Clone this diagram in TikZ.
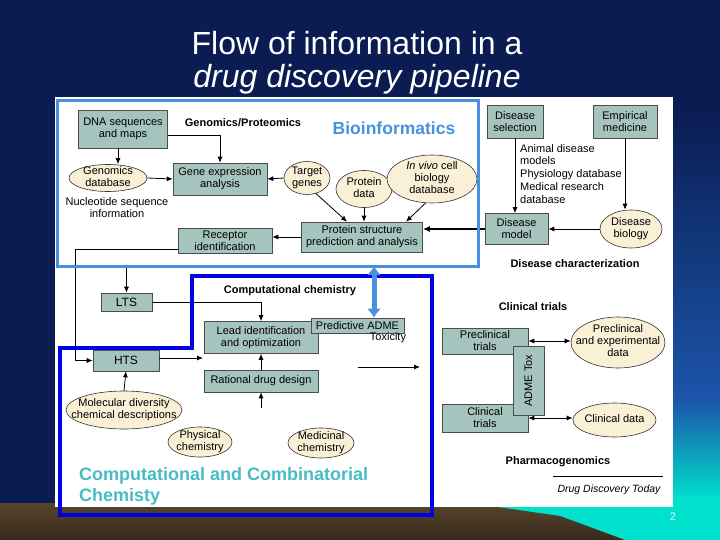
\documentclass[tikz,border=0pt]{standalone}
\usepackage{fontspec}
\setmainfont{Liberation Sans}
\usetikzlibrary{arrows.meta,shapes.geometric,calc}
\definecolor{navy}{RGB}{10,28,82}
\definecolor{midblue}{RGB}{28,85,170}
\definecolor{cyanbg}{RGB}{0,225,205}
\definecolor{brownbg}{RGB}{88,68,44}
\definecolor{brownbot}{RGB}{55,42,28}
\definecolor{boxfill}{RGB}{166,196,190}
\definecolor{cream}{RGB}{250,240,214}
\definecolor{bioblue}{RGB}{72,145,225}
\definecolor{compblue}{RGB}{0,0,225}
\definecolor{combteal}{RGB}{72,188,196}
\definecolor{pagecol}{RGB}{215,250,250}
\newcommand\ztext[1]{\makebox[0pt]{\smash{\raisebox{-2.75pt}{\begin{tabular}{@{}c@{}}#1\end{tabular}}}}}
\begin{document}
\begin{tikzpicture}[x=1pt,y=-1pt,
  box/.style={draw=black!70, line width=0.6pt, fill=boxfill, align=center, inner sep=1pt, font=\fontsize{11}{12}\selectfont},
  ell/.style={ellipse, draw=black!80, line width=0.6pt, fill=cream, inner sep=0pt, font=\fontsize{11}{12}\selectfont},
  lbl/.style={font=\fontsize{11}{12}\selectfont\bfseries, inner sep=0pt},
  txt/.style={font=\fontsize{11}{12}\selectfont, inner sep=0pt, align=center},
  titlestyle/.style={font=\fontsize{32}{34}\selectfont, text=white, inner sep=0pt},
  arr/.style={-{Latex[length=6pt,width=5pt]}, line width=0.8pt},
  darr/.style={{Latex[length=6pt,width=5pt]}-{Latex[length=6pt,width=5pt]}, line width=0.8pt},
  ln/.style={line width=0.8pt},
  bluearrow/.style={{Latex[length=9pt,width=14pt]}-{Latex[length=9pt,width=14pt]}, line width=5pt, draw=bioblue}
]
\useasboundingbox (0,0) rectangle (720,540);
% background
\fill[navy] (0,0) rectangle (720,540);
\shade[top color=navy, bottom color=midblue] (640,110) rectangle (720,400);
\shade[top color=midblue, bottom color=cyanbg] (640,400) rectangle (720,500);
\fill[cyanbg] (440,500) rectangle (720,540);
\shade[top color=brownbg, bottom color=brownbot] (0,503) -- (470,503) -- (560,516) -- (625,540) -- (0,540) -- cycle;
\fill[white] (55,97) rectangle (673,507);

% title
\node[titlestyle] (t1) at (357,43) {Flow of information in a};
\node[titlestyle] (t2) at (357,79) {\itshape drug discovery pipeline};

% Bioinformatics region
\node[box, minimum width=89pt, minimum height=38pt] (dna) at (123,129) {DNA sequences\\and maps};
\node[lbl] (genprot) at (243,123) {Genomics/Proteomics};
\node[font=\fontsize{17.5}{18}\selectfont\bfseries, text=bioblue, inner sep=0pt] (bioinf) at (394,128) {Bioinformatics};
\node[ell, minimum width=78pt, minimum height=27pt] (gdb) at (108,178) {\ztext{Genomics\\database}};
\node[txt] (nucl) at (117,208) {Nucleotide sequence\\information};
\node[box, minimum width=94pt, minimum height=32pt] (gene) at (220,179) {Gene expression\\analysis};
\node[ell, minimum width=46pt, minimum height=33pt] (target) at (307,178) {\ztext{Target\\genes}};
\node[ell, minimum width=56pt, minimum height=37pt] (pdata) at (364,189) {\ztext{Protein\\data}};
\node[ell, minimum width=90pt, minimum height=48pt] (invivo) at (432,179) {\ztext{\textit{In vivo} cell\\biology\\database}};
\node[box, minimum width=121pt, minimum height=30pt] (pstruct) at (362,237) {Protein structure\\prediction and analysis};
\node[box, minimum width=94pt, minimum height=25pt] (recept) at (225,240.5) {Receptor\\identification};

% Disease characterization
\node[box, minimum width=56pt, minimum height=33pt] (dissel) at (515,121.5) {Disease\\selection};
\node[box, minimum width=64pt, minimum height=33pt] (empir) at (625,121.5) {Empirical\\medicine};
\node[txt, align=left, anchor=north west, font=\fontsize{11}{12.8}\selectfont] (animal) at (520,144) {Animal disease\\models\\Physiology database\\Medical research\\database};
\node[box, minimum width=63pt, minimum height=31pt] (dismod) at (516.5,229) {Disease\\model};
\node[ell, minimum width=62pt, minimum height=38pt] (disbio) at (631,229) {\ztext{Disease\\biology}};
\node[lbl] (dischar) at (575,264) {Disease characterization};

% Computational chemistry
\node[box, minimum width=51pt, minimum height=18pt, font=\fontsize{12}{12}\selectfont] (lts) at (126.5,302) {LTS};
\node[lbl] (compchem) at (290,291) {Computational chemistry};
\node[box, minimum width=114pt, minimum height=32pt] (lead) at (261,337.5) {Lead identification\\and optimization};
\node[box, minimum width=93pt, minimum height=15pt] (adme) at (357.5,325.5) {Predictive ADME};
\node[txt] (tox) at (388,338) {Toxicity};
\node[box, minimum width=66pt, minimum height=21pt, font=\fontsize{12}{12}\selectfont] (hts) at (126,360.5) {HTS};
\node[box, minimum width=114pt, minimum height=22pt] (ratdd) at (261,381) {Rational drug design};
\node[ell, minimum width=116pt, minimum height=38pt] (moldiv) at (124,410) {\ztext{Molecular diversity\\chemical descriptions}};
\node[ell, minimum width=64pt, minimum height=30pt] (physchem) at (200,442) {\ztext{Physical\\chemistry}};
\node[ell, minimum width=66pt, minimum height=30pt] (medchem) at (321,443) {\ztext{Medicinal\\chemistry}};

% Clinical trials
\node[lbl] (clintxt) at (533,307) {Clinical trials};
\node[box, minimum width=86pt, minimum height=26pt] (preclin) at (485,341) {Preclinical\\trials};
\node[box, minimum width=86pt, minimum height=28pt] (clintr) at (485,418) {Clinical\\trials};
\node[box, rotate=90, minimum width=69pt, minimum height=31pt] (admetox) at (528.5,380.5) {ADME Tox};
\node[ell, minimum width=94pt, minimum height=51pt] (precdata) at (618,342.5) {\ztext{Preclinical\\and experimental\\data}};
\node[ell, minimum width=83pt, minimum height=34pt] (clindata) at (614.5,420) {\ztext{Clinical data}};
\node[lbl] (pharma) at (558,462) {Pharmacogenomics};
\draw[line width=0.6pt] (553,476) -- (663,476);
\node[txt, font=\fontsize{10.5}{12}\selectfont\itshape] (ddt) at (609,490) {Drug Discovery Today};

\node[font=\fontsize{18}{21}\selectfont\bfseries, text=combteal, align=left, anchor=north west, inner sep=0pt] (comb) at (79,467) {Computational and Combinatorial\\Chemisty};
\node[font=\fontsize{11}{12}\selectfont, text=pagecol, inner sep=0pt] (pnum) at (673,517) {2};

% connectors: bioinformatics
\draw[arr] ([xshift=-5pt]dna.south) -- ([xshift=-5pt]dna.south |- gdb.north);
\draw[arr] ([yshift=-6pt]dna.east) -| (gene.north);
\draw[arr] (gdb.east) -- (gene.west);
\draw[arr] (target.west) -- (gene.east);
\draw[arr] (target.-60) -- ([xshift=-15pt]pstruct.north);
\draw[arr] (pdata.south) -- (pdata.south |- pstruct.north);
\draw[arr] (invivo.-105) -- ([xshift=44pt]pstruct.north);
\draw[arr] (pstruct.west) -- (pstruct.west -| recept.east);
\draw[-{Latex[length=7pt,width=6pt]}, line width=1.8pt] (dismod.west) -- (dismod.west -| pstruct.east);
\draw[arr] (dissel.south) -- (dissel.south |- dismod.north);
\draw[arr] (empir.south) -- (empir.south |- disbio.north);
\draw[arr] (disbio.west) -- (disbio.west -| dismod.east);

% connectors: computational
\coordinate (recl) at (178,249);
\coordinate (leftv) at (75,249);
\draw[arr] (recl) -- (leftv) |- (hts.west);
\coordinate (ltsin) at (126.5,268);
\draw[arr] (ltsin) -- (lts.north);
\draw[arr] (lts.east) -| (lead.north);
\coordinate (htsto) at (203,358);
\draw[arr] (hts.east |- htsto) -- (htsto);
\draw[arr] (ratdd.north) -- (lead.south);
\coordinate (ratin) at (261,408);
\draw[arr] (ratin) -- (ratdd.south);
\draw[arr] (moldiv.north) -- (hts.south);
\coordinate (toxa) at (358,367);
\coordinate (toxb) at (420,367);
\draw[arr] (toxa) -- (toxb);

% connectors: clinical
\draw[darr] (preclin.east) -- (preclin.east -| precdata.west);
\draw[darr] (clintr.east) -- (clintr.east -| clindata.west);

% frames
\node[draw=bioblue, line width=3pt, minimum width=421pt, minimum height=165pt, inner sep=0pt] (bioframe) at (267.5,183.5) {};
\draw[draw=compblue, line width=4pt] (60,348) -- (192,348) -- (192,276) -- (432,276) -- (432,515) -- (60,515) -- cycle;
\coordinate (barr) at (374,266);
\draw[bluearrow] (barr) -- (barr |- adme.north);
\end{tikzpicture}
\end{document}
